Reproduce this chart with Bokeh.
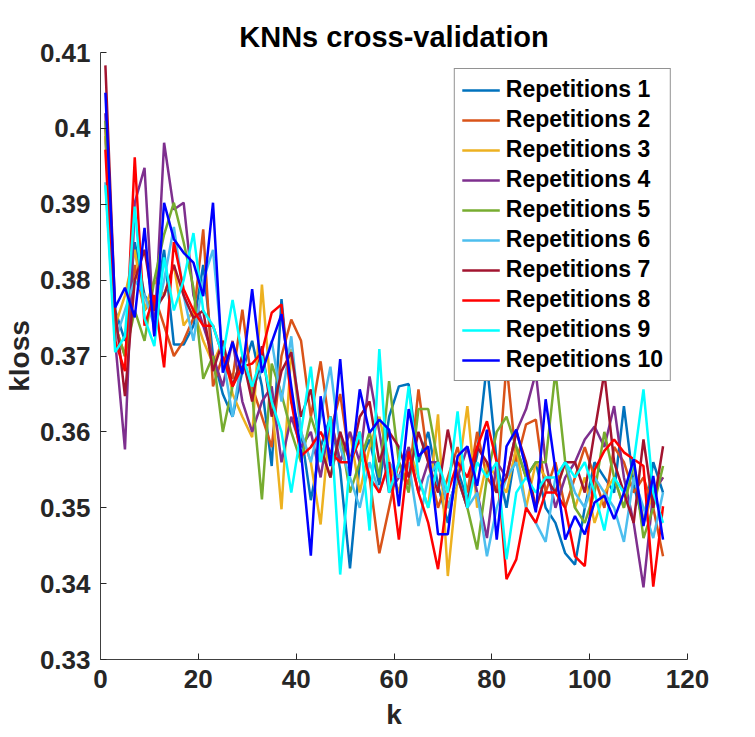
from bokeh.plotting import figure
from bokeh.models import FixedTicker, Legend, LegendItem
from bokeh.embed import file_html
from bokeh.resources import INLINE

k = list(range(1, 116, 2))

rep1 = [0.3990, 0.3760, 0.3720, 0.3850, 0.3780, 0.3760, 0.3840, 0.3715, 0.3715, 0.3740,
        0.3820, 0.3700, 0.3650, 0.3620, 0.3680, 0.3720, 0.3660, 0.3555, 0.3775, 0.3640,
        0.3600, 0.3510, 0.3580, 0.3620, 0.3550, 0.3420, 0.3560, 0.3590, 0.3530, 0.3620,
        0.3660, 0.3663, 0.3560, 0.3600, 0.3530, 0.3480, 0.3550, 0.3510, 0.3570, 0.3690,
        0.3560, 0.3500, 0.3580, 0.3540, 0.3560, 0.3500, 0.3480, 0.3440, 0.3425, 0.3500,
        0.3560, 0.3540, 0.3520, 0.3634, 0.3530, 0.3480, 0.3560, 0.3520]
rep2 = [0.4000, 0.3740, 0.3700, 0.3820, 0.3760, 0.3780, 0.3740, 0.3700, 0.3720, 0.3750,
        0.3867, 0.3660, 0.3700, 0.3670, 0.3761, 0.3660, 0.3620, 0.3580, 0.3700, 0.3748,
        0.3720, 0.3620, 0.3693, 0.3600, 0.3650, 0.3560, 0.3600, 0.3540, 0.3440, 0.3500,
        0.3560, 0.3530, 0.3656, 0.3560, 0.3500, 0.3540, 0.3580, 0.3520, 0.3600, 0.3540,
        0.3520, 0.3690, 0.3560, 0.3610, 0.3616, 0.3520, 0.3560, 0.3500, 0.3540, 0.3580,
        0.3540, 0.3500, 0.3580, 0.3560, 0.3520, 0.3540, 0.3500, 0.3436]
rep3 = [0.3990, 0.3740, 0.3780, 0.3840, 0.3760, 0.3800, 0.3780, 0.3820, 0.3740, 0.3760,
        0.3720, 0.3690, 0.3720, 0.3650, 0.3620, 0.3593, 0.3794, 0.3640, 0.3498, 0.3709,
        0.3600, 0.3560, 0.3478, 0.3620, 0.3560, 0.3600, 0.3520, 0.3580, 0.3620, 0.3560,
        0.3520, 0.3580, 0.3540, 0.3500, 0.3623, 0.3410, 0.3540, 0.3634, 0.3500, 0.3560,
        0.3540, 0.3520, 0.3580, 0.3500, 0.3560, 0.3540, 0.3520, 0.3560, 0.3500, 0.3540,
        0.3480, 0.3520, 0.3540, 0.3500, 0.3560, 0.3480, 0.3520, 0.3540]
rep4 = [0.4020, 0.3720, 0.3577, 0.3902, 0.3948, 0.3726, 0.3981, 0.3893, 0.3902, 0.3780,
        0.3740, 0.3700, 0.3660, 0.3720, 0.3640, 0.3600, 0.3640, 0.3660, 0.3560, 0.3620,
        0.3580, 0.3600, 0.3540, 0.3620, 0.3560, 0.3600, 0.3560, 0.3673, 0.3600, 0.3520,
        0.3540, 0.3580, 0.3520, 0.3560, 0.3560, 0.3500, 0.3540, 0.3580, 0.3520, 0.3460,
        0.3560, 0.3540, 0.3600, 0.3630, 0.3678, 0.3560, 0.3500, 0.3540, 0.3560, 0.3590,
        0.3607, 0.3580, 0.3634, 0.3540, 0.3480, 0.3395, 0.3520, 0.3540]
rep5 = [0.4010, 0.3740, 0.3700, 0.3760, 0.3720, 0.3800, 0.3860, 0.3902, 0.3850, 0.3790,
        0.3670, 0.3700, 0.3600, 0.3660, 0.3700, 0.3650, 0.3511, 0.3690, 0.3650, 0.3600,
        0.3560, 0.3620, 0.3580, 0.3540, 0.3600, 0.3520, 0.3560, 0.3600, 0.3540, 0.3667,
        0.3560, 0.3520, 0.3630, 0.3630, 0.3560, 0.3500, 0.3540, 0.3500, 0.3445, 0.3540,
        0.3600, 0.3620, 0.3580, 0.3540, 0.3560, 0.3560, 0.3680, 0.3560, 0.3500, 0.3480,
        0.3520, 0.3600, 0.3540, 0.3500, 0.3560, 0.3460, 0.3500, 0.3555]
rep6 = [0.3929, 0.3720, 0.3760, 0.3800, 0.3780, 0.3740, 0.3800, 0.3870, 0.3780, 0.3720,
        0.3800, 0.3840, 0.3700, 0.3620, 0.3700, 0.3660, 0.3680, 0.3720, 0.3640, 0.3726,
        0.3600, 0.3560, 0.3620, 0.3686, 0.3580, 0.3540, 0.3500, 0.3560, 0.3520, 0.3560,
        0.3540, 0.3560, 0.3476, 0.3540, 0.3560, 0.3500, 0.3540, 0.3500, 0.3520, 0.3436,
        0.3500, 0.3540, 0.3560, 0.3500, 0.3480, 0.3455, 0.3540, 0.3560, 0.3520, 0.3500,
        0.3540, 0.3520, 0.3500, 0.3455, 0.3540, 0.3500, 0.3460, 0.3520]
rep7 = [0.4083, 0.3760, 0.3647, 0.3800, 0.3840, 0.3760, 0.3780, 0.3820, 0.3780, 0.3750,
        0.3760, 0.3680, 0.3720, 0.3660, 0.3700, 0.3640, 0.3713, 0.3620, 0.3680, 0.3705,
        0.3620, 0.3656, 0.3580, 0.3540, 0.3600, 0.3560, 0.3620, 0.3640, 0.3560, 0.3600,
        0.3580, 0.3540, 0.3600, 0.3560, 0.3520, 0.3603, 0.3540, 0.3500, 0.3580, 0.3560,
        0.3520, 0.3540, 0.3600, 0.3560, 0.3500, 0.3540, 0.3520, 0.3560, 0.3560, 0.3520,
        0.3600, 0.3678, 0.3560, 0.3520, 0.3480, 0.3590, 0.3500, 0.3581]
rep8 = [0.3972, 0.3720, 0.3680, 0.3962, 0.3740, 0.3780, 0.3685, 0.3850, 0.3788, 0.3760,
        0.3740, 0.3740, 0.3700, 0.3660, 0.3686, 0.3690, 0.3705, 0.3757, 0.3768, 0.3640,
        0.3568, 0.3580, 0.3600, 0.3573, 0.3560, 0.3560, 0.3590, 0.3540, 0.3520, 0.3560,
        0.3458, 0.3574, 0.3520, 0.3480, 0.3419, 0.3520, 0.3560, 0.3540, 0.3580, 0.3614,
        0.3560, 0.3406, 0.3432, 0.3500, 0.3480, 0.3520, 0.3520, 0.3500, 0.3436, 0.3423,
        0.3550, 0.3575, 0.3590, 0.3573, 0.3564, 0.3555, 0.3396, 0.3502]
rep9 = [0.3925, 0.3705, 0.3726, 0.3897, 0.3750, 0.3713, 0.3830, 0.3760, 0.3800, 0.3862,
        0.3760, 0.3740, 0.3700, 0.3774, 0.3700, 0.3660, 0.3700, 0.3640, 0.3600, 0.3520,
        0.3600, 0.3686, 0.3560, 0.3620, 0.3412, 0.3560, 0.3600, 0.3470, 0.3709, 0.3520,
        0.3560, 0.3660, 0.3540, 0.3500, 0.3560, 0.3520, 0.3627, 0.3500, 0.3560, 0.3540,
        0.3560, 0.3432, 0.3520, 0.3540, 0.3520, 0.3540, 0.3540, 0.3560, 0.3540, 0.3560,
        0.3520, 0.3470, 0.3540, 0.3520, 0.3560, 0.3656, 0.3520, 0.3480]
rep10 = [0.4047, 0.3764, 0.3790, 0.3751, 0.3869, 0.3726, 0.3902, 0.3854, 0.3836, 0.3823,
         0.3779, 0.3902, 0.3678, 0.3718, 0.3676, 0.3788, 0.3678, 0.3718, 0.3755, 0.3660,
         0.3573, 0.3437, 0.3647, 0.3555, 0.3696, 0.3542, 0.3656, 0.3599, 0.3616, 0.3603,
         0.3502, 0.3630, 0.3568, 0.3581, 0.3465, 0.3465, 0.3568, 0.3581, 0.3529, 0.3603,
         0.3458, 0.3581, 0.3603, 0.3551, 0.3494, 0.3643, 0.3550, 0.3458, 0.3489, 0.3465,
         0.3507, 0.3516, 0.3485, 0.3520, 0.3564, 0.3476, 0.3542, 0.3458]

series = [rep1, rep2, rep3, rep4, rep5, rep6, rep7, rep8, rep9, rep10]
labels = ["Repetitions %d" % i for i in range(1, 11)]
colors = ["#0072BD", "#D95319", "#EDB120", "#7E2F8E", "#77AC30",
          "#4DBEEE", "#A2142F", "#FF0000", "#00FFFF", "#0000FF"]

x_ticks = [0, 20, 40, 60, 80, 100, 120]
y_ticks = [0.33, 0.34, 0.35, 0.36, 0.37, 0.38, 0.39, 0.40, 0.41]
y_tick_labels = ["0.33", "0.34", "0.35", "0.36", "0.37", "0.38", "0.39", "0.4", "0.41"]

FONT = "Liberation Sans"

p = figure(frame_width=587, frame_height=607, output_backend="svg", toolbar_location=None,
           x_range=(0, 120), y_range=(0.33, 0.41),
           title="KNNs cross-validation",
           min_border_left=90, min_border_right=55, min_border_top=52, min_border_bottom=62)
p.outline_line_color = None
p.xgrid.visible = False
p.ygrid.visible = False
p.background_fill_color = "white"
p.border_fill_color = "white"

p.title.text_font = FONT
p.title.text_font_size = "29px"
p.title.text_font_style = "bold"
p.title.text_color = "black"
p.title.align = "center"
p.title.standoff = 0

for ax in (p.xaxis[0], p.yaxis[0]):
    ax.axis_line_color = "#404040"
    ax.axis_line_width = 1
    ax.major_tick_line_color = "#262626"
    ax.major_tick_in = 6
    ax.major_tick_out = 0
    ax.minor_tick_line_color = None
    ax.major_label_text_font = FONT
    ax.major_label_text_font_size = "26px"
    ax.major_label_text_font_style = "bold"
    ax.major_label_text_color = "#262626"
    ax.axis_label_text_font = FONT
    ax.axis_label_text_font_size = "28px"
    ax.axis_label_text_font_style = "bold"
    ax.axis_label_text_color = "#262626"

p.xaxis[0].ticker = FixedTicker(ticks=x_ticks)
p.yaxis[0].ticker = FixedTicker(ticks=y_ticks)
p.yaxis[0].major_label_overrides = {t: s for t, s in zip(y_ticks, y_tick_labels)}
p.xaxis[0].axis_label = "k"
p.yaxis[0].axis_label = "kloss"
p.xaxis[0].major_label_standoff = 10
p.yaxis[0].major_label_standoff = 10
p.xaxis[0].axis_label_standoff = 8
p.yaxis[0].axis_label_standoff = 2

items = []
for ys, lab, c in zip(series, labels, colors):
    r = p.line(k, ys, line_color=c, line_width=2.5)
    items.append(LegendItem(label=lab, renderers=[r]))

legend = Legend(items=items, location="top_right")
legend.label_text_font = FONT
legend.label_text_font_size = "23px"
legend.label_text_font_style = "bold"
legend.label_text_color = "black"
legend.glyph_width = 38
legend.glyph_height = 22
legend.label_height = 22
legend.spacing = 3
legend.padding = 7
legend.label_standoff = 6
legend.margin = 16
legend.border_line_color = "#262626"
legend.border_line_width = 1
legend.background_fill_color = "white"
legend.background_fill_alpha = 1
p.add_layout(legend)

open("out.html", "w").write(file_html(p, INLINE))
